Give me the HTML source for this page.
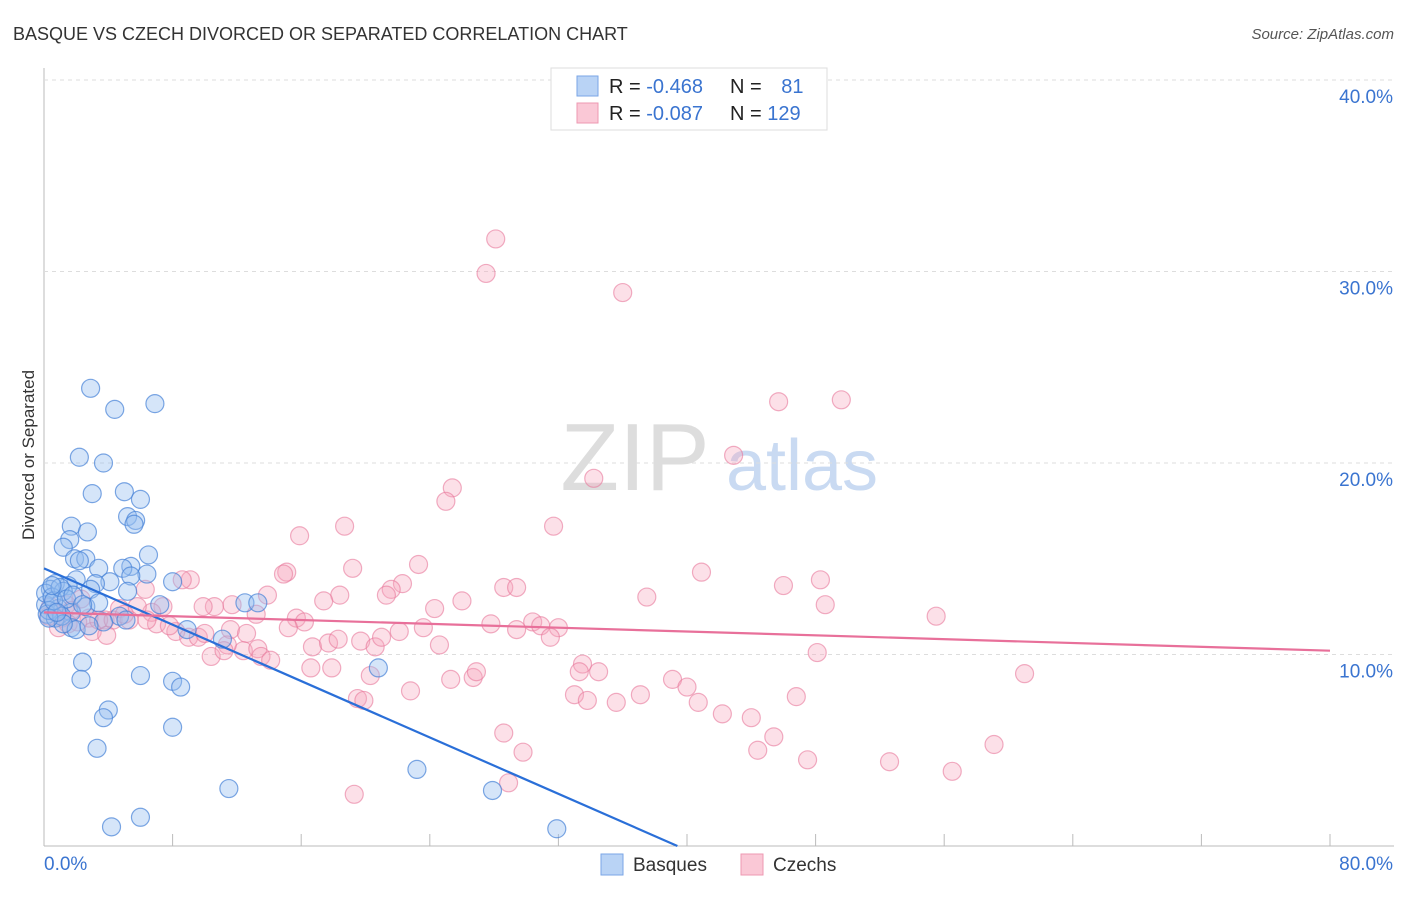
<!DOCTYPE html>
<html><head><meta charset="utf-8"><style>
body{margin:0;background:#fff;font-family:"Liberation Sans",sans-serif}
svg text{font-family:"Liberation Sans",sans-serif}
</style></head><body>
<svg id="chart" width="1406" height="892" xmlns="http://www.w3.org/2000/svg">
<text x="13" y="40" font-size="18" fill="#333">BASQUE VS CZECH DIVORCED OR SEPARATED CORRELATION CHART</text>
<text x="1394" y="39" font-size="15" fill="#555" font-style="italic" text-anchor="end">Source: ZipAtlas.com</text>
<text transform="translate(34,455) rotate(-90)" font-size="17" fill="#333" text-anchor="middle">Divorced or Separated</text>
<g>
<text x="635" y="490" font-size="96" fill="#ddd" font-family="Liberation Serif" text-anchor="middle">ZIP</text>
<text x="802" y="490" font-size="72" fill="#c9daf2" text-anchor="middle">atlas</text>
</g>
<g id="grid"></g><g id="marks"></g>
<g>
<rect x="551" y="68" width="276" height="62" fill="#fff" stroke="#ddd"/>
<rect x="577" y="76" width="21" height="20" fill="#b9d3f5" stroke="#7aa6e6"/>
<rect x="577" y="103" width="21" height="20" fill="#fac8d6" stroke="#ee98b2"/>
<text x="609" y="93" font-size="20" fill="#222">R = <tspan fill="#3a74d0">-0.468</tspan></text>
<text x="730" y="93" font-size="20" fill="#222">N = <tspan fill="#3a74d0" dx="14">81</tspan></text>
<text x="609" y="120" font-size="20" fill="#222">R = <tspan fill="#3a74d0">-0.087</tspan></text>
<text x="730" y="120" font-size="20" fill="#222">N = <tspan fill="#3a74d0">129</tspan></text>
</g>
<g>
<rect x="601" y="854" width="22" height="21" fill="#b9d3f5" stroke="#7aa6e6"/>
<text x="633" y="871" font-size="19" fill="#333">Basques</text>
<rect x="741" y="854" width="22" height="21" fill="#fac8d6" stroke="#ee98b2"/>
<text x="773" y="871" font-size="19" fill="#333">Czechs</text>
</g>
</svg>
<script>
const yTicks=[10,20,30,40];
const yTickLabels=["10.0%","20.0%","30.0%","40.0%"];
const xTickLabels=["0.0%","80.0%"];
const basqueX=[2.9,4.4,6.9,2.2,3.7,3.0,5.0,6.0,5.2,5.7,5.6,1.7,2.7,1.6,1.2,6.5,1.9,2.6,2.2,5.4,3.4,4.9,6.4,5.4,4.1,3.2,2.0,8.0,1.5,0.7,0.4,1.2,2.9,5.2,7.2,12.5,13.3,0.1,0.9,2.6,3.4,1.7,0.2,0.7,4.7,5.1,1.7,2.0,8.9,11.1,20.8,2.4,6.0,2.3,8.0,8.5,4.0,3.7,8.0,3.3,11.5,23.2,27.9,4.2,6.0,31.9,0.1,0.5,0.3,1.1,1.2,3.7,2.8,0.6,1.0,1.4,0.3,0.8,1.8,2.4,0.5];
const basqueY=[23.9,22.8,23.1,20.3,20.0,18.4,18.5,18.1,17.2,17.0,16.8,16.7,16.4,16.0,15.6,15.2,15.0,15.0,14.9,14.6,14.5,14.5,14.2,14.1,13.8,13.7,13.9,13.8,13.6,13.7,13.4,13.3,13.4,13.3,12.6,12.7,12.7,12.6,12.4,12.5,12.7,12.2,12.1,11.9,12.0,11.8,11.4,11.3,11.3,10.8,9.3,9.6,8.9,8.7,8.6,8.3,7.1,6.7,6.2,5.1,3.0,4.0,2.9,1.0,1.5,0.9,13.2,13.0,12.3,12.0,11.6,11.7,11.5,12.8,13.5,12.9,11.9,12.2,13.1,12.6,13.6];
const czechX=[28.1,27.5,36.0,45.7,49.6,42.9,34.2,25.4,25.0,18.7,31.7,15.9,23.3,19.2,40.9,15.1,14.9,13.9,9.1,8.6,22.3,21.6,21.3,28.6,29.4,46.0,48.3,37.5,18.4,17.4,26.0,48.6,55.5,24.3,6.3,7.4,6.7,5.8,4.7,10.6,11.7,9.9,13.2,15.7,16.2,15.2,3.8,2.8,2.1,3.0,3.4,4.3,5.3,7.0,8.2,9.0,9.6,11.6,12.6,12.4,11.4,13.3,10.4,11.2,13.5,14.1,16.7,17.7,18.3,19.7,20.6,21.0,22.1,23.6,24.6,27.8,30.4,30.9,32.0,31.5,29.4,16.6,17.9,20.3,19.5,19.9,22.8,25.3,26.7,26.9,33.5,33.3,34.5,33.0,33.8,35.6,37.1,39.1,40.0,40.7,42.2,44.0,45.4,44.4,46.8,48.1,47.5,52.6,56.5,59.1,61.0,28.6,29.8,28.9,19.3,1.4,1.7,1.1,0.7,0.4,0.9,1.5,6.4,3.9,0.3,2.3,5.0,7.8,10.0];
const czechY=[31.7,29.9,28.9,23.2,23.3,20.4,19.2,18.7,18.0,16.7,16.7,16.2,14.7,14.5,14.3,14.3,14.2,13.1,13.9,13.9,13.7,13.4,13.1,13.5,13.5,13.6,13.9,13.0,13.1,12.8,12.8,12.6,12.0,12.4,13.4,12.5,12.2,12.5,12.4,12.5,12.6,12.5,12.1,11.9,11.7,11.4,11.8,11.9,11.7,11.2,11.8,11.8,11.8,11.6,11.2,10.9,10.9,11.3,11.1,10.2,10.5,10.3,9.9,10.2,9.9,9.7,10.4,10.6,10.8,10.7,10.4,10.9,11.2,11.4,10.5,11.6,11.7,11.5,11.4,10.9,11.3,9.3,9.3,8.9,7.7,7.6,8.1,8.7,8.8,9.1,9.5,9.1,9.1,7.9,7.6,7.5,7.9,8.7,8.3,7.5,6.9,6.7,5.7,5.0,7.8,10.1,4.5,4.4,3.9,5.3,9.0,5.9,4.9,3.3,2.7,12.6,12.3,11.9,12.2,12.5,11.4,11.6,11.8,11.0,12.0,12.9,12.1,11.5,11.1];
const basqueTrend=[14.5,-0.368];
const czechTrend=[12.2,-0.025];
const X0=44,X1=1330,Y0=846,YPX=19.15;
const sx=v=>X0+(X1-X0)*v/80, sy=v=>Y0-v*YPX;
const NS="http://www.w3.org/2000/svg";
function mk(tag,attrs,parent){const e=document.createElementNS(NS,tag);for(const k in attrs)e.setAttribute(k,attrs[k]);parent.appendChild(e);return e;}
const grid=document.getElementById('grid'),marks=document.getElementById('marks');
let ax=mk('line',{x1:X0,y1:68,x2:X0,y2:Y0,stroke:'#bbb'},grid);


let bx=mk('line',{x1:X0,y1:Y0,x2:1394,y2:Y0,stroke:'#bbb'},grid);


for(let i=1;i<=10;i++){const t=mk('line',{x1:sx(i*8),y1:Y0,x2:sx(i*8),y2:Y0-12,stroke:'#bbb'},grid);

}
yTicks.forEach((v,i)=>{const g=mk('line',{x1:X0,y1:sy(v),x2:1394,y2:sy(v),stroke:'#ddd','stroke-dasharray':'4,4'},grid);


const t=mk('text',{x:1393,y:sy(v)+23,'font-size':19,fill:'#3a74d0','text-anchor':'end'},grid);t.textContent=yTickLabels[i];

});
const tl=mk('text',{x:44,y:870,'font-size':19,fill:'#3a74d0'},grid);tl.textContent=xTickLabels[0];


const tr=mk('text',{x:1393,y:870,'font-size':19,fill:'#3a74d0','text-anchor':'end'},grid);tr.textContent=xTickLabels[1];


czechX.forEach((v,i)=>{const c=mk('circle',{cx:sx(v),cy:sy(czechY[i]),r:9,fill:'rgba(246,166,190,0.35)',stroke:'rgba(232,120,155,0.6)','stroke-width':1.2},marks);

});
basqueX.forEach((v,i)=>{const c=mk('circle',{cx:sx(v),cy:sy(basqueY[i]),r:9,fill:'rgba(150,190,240,0.4)',stroke:'rgba(70,130,215,0.7)','stroke-width':1.2},marks);

});
const bEnd=-basqueTrend[0]/basqueTrend[1];
const bl=mk('line',{x1:sx(0),y1:sy(basqueTrend[0]),x2:sx(bEnd),y2:sy(0),stroke:'#2a6fd8','stroke-width':2.2},marks);


const cl=mk('line',{x1:sx(0),y1:sy(czechTrend[0]),x2:sx(80),y2:sy(czechTrend[0]+czechTrend[1]*80),stroke:'#e8709a','stroke-width':2.2},marks);


</script>
</body></html>
